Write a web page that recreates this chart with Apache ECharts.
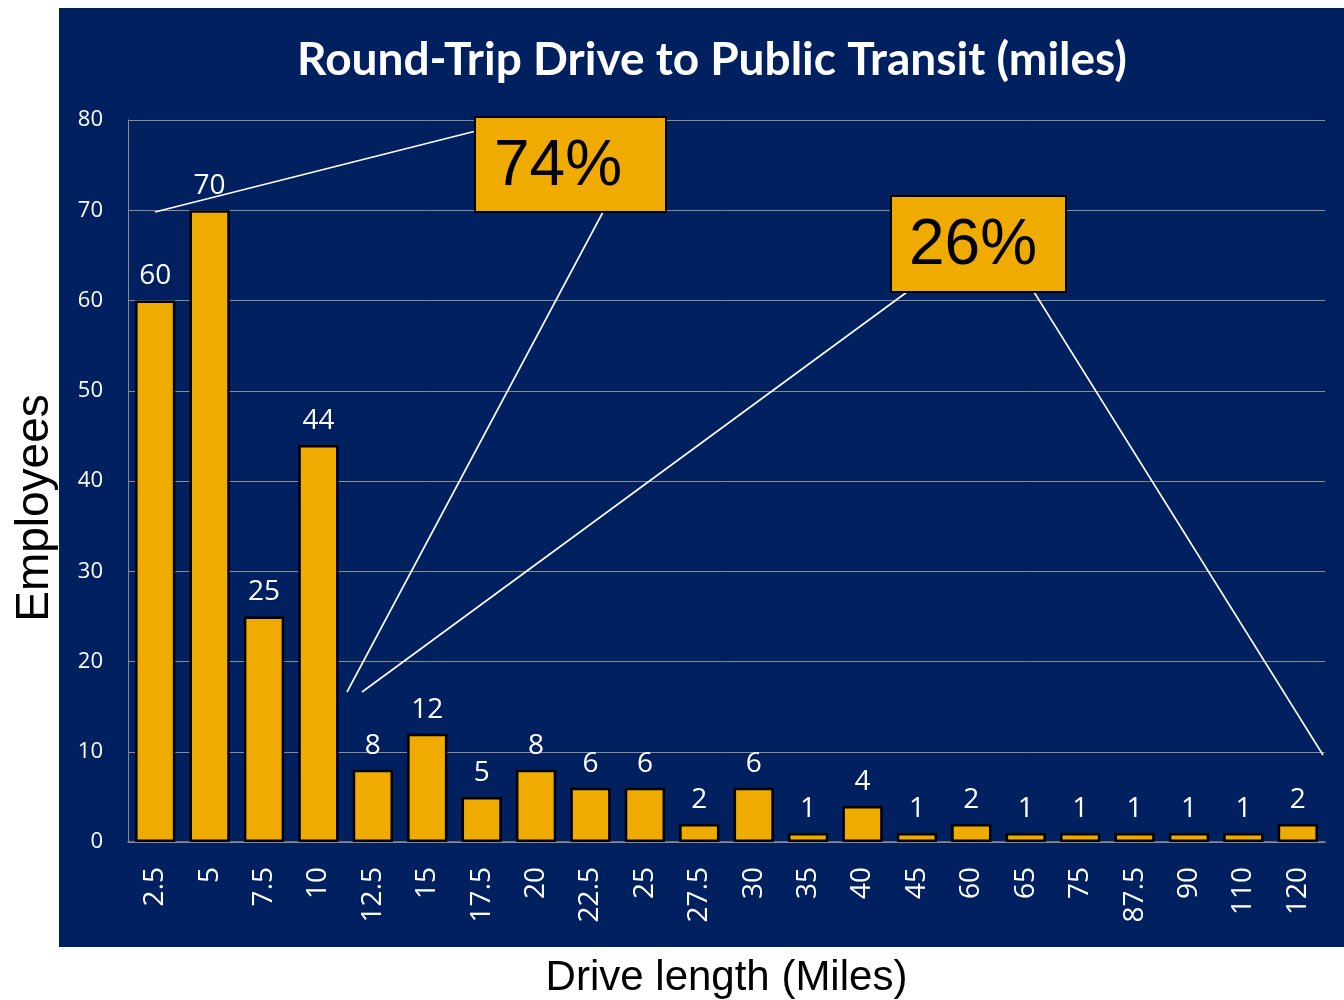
<!DOCTYPE html>
<html>
<head>
<meta charset="utf-8">
<script src="https://cdn.jsdelivr.net/npm/echarts@6/dist/echarts.min.js"></script>
<style>
html,body{margin:0;padding:0;background:#fff;}
#panel{position:absolute;left:59px;top:8px;width:1285px;height:939px;background:#00205F;}
#chart{position:absolute;left:0;top:0;width:1344px;height:1000px;}
</style>
</head>
<body>
<div id="panel"></div>
<div id="chart"></div>
<script>
const categories = ['2.5','5','7.5','10','12.5','15','17.5','20','22.5','25','27.5','30','35','40','45','60','65','75','87.5','90','110','120'];
const employees = [60,70,25,44,8,12,5,8,6,6,2,6,1,4,1,2,1,1,1,1,1,2];
const yTicks = {min:0, max:80, interval:10};
const titleText = 'Round-Trip Drive to Public Transit (miles)';
const yAxisTitle = 'Employees';
const xAxisTitle = 'Drive length (Miles)';
const callouts = ['74%','26%'];

const chart = echarts.init(document.getElementById('chart'), null, {renderer:'canvas'});
const gold = '#F0AB00';
const lineStyle = {stroke:'#ffffff', lineWidth:1.6};
chart.setOption({
  backgroundColor:'transparent',
  animation:false,
  title:{
    text:titleText, left:707, top:32, textAlign:'center',
    textStyle:{color:'#fff', fontSize:46, fontWeight:'bold', fontFamily:'Lato'}
  },
  grid:{left:128, right:19, top:120, bottom:158, containLabel:false, outerBoundsMode:'none'},
  xAxis:{
    type:'category', data:categories,
    name:xAxisTitle, nameLocation:'middle', nameGap:115,
    nameTextStyle:{color:'#000', fontSize:42, fontFamily:'Liberation Sans'},
    axisLine:{lineStyle:{color:'#8a8a8a', width:1.5}},
    axisTick:{show:false},
    axisLabel:{rotate:90, color:'#fff', fontSize:28, margin:25, fontFamily:'Open Sans', interval:0}
  },
  yAxis:{
    type:'value', min:yTicks.min, max:yTicks.max, interval:yTicks.interval,
    axisLine:{show:true, lineStyle:{color:'#8a8a8a', width:1}},
    axisTick:{show:false},
    splitLine:{lineStyle:{color:'#8a8a8a', width:1}},
    axisLabel:{color:'#fff', fontSize:22, margin:25, fontFamily:'Open Sans'}
  },
  series:[{
    type:'bar', data:employees, barCategoryGap:'26%',
    itemStyle:{color:gold, borderColor:'#000', borderWidth:2.5},
    label:{show:true, position:'top', distance:10, color:'#fff', fontSize:28, fontFamily:'Open Sans'}
  }],
  graphic:[
    {type:'text', x:35, y:508, rotation:Math.PI/2, style:{text:yAxisTitle, fill:'#000', fontSize:46, fontFamily:'Liberation Sans', align:'center', verticalAlign:'middle'}},
    {type:'line', shape:{x1:155,y1:212,x2:476,y2:131}, style:lineStyle, z:10},
    {type:'line', shape:{x1:603,y1:212,x2:347,y2:692}, style:lineStyle, z:10},
    {type:'line', shape:{x1:907,y1:292,x2:362,y2:692}, style:lineStyle, z:10},
    {type:'line', shape:{x1:1034,y1:292,x2:1323,y2:755}, style:lineStyle, z:10},
    {type:'rect', shape:{x:475,y:117,width:191,height:95}, style:{fill:gold, stroke:'#000', lineWidth:2}, z:11},
    {type:'text', x:494, y:167, style:{text:callouts[0], fill:'#000', fontSize:64, fontFamily:'Liberation Sans', verticalAlign:'middle'}, z:12},
    {type:'rect', shape:{x:891,y:196,width:175,height:96}, style:{fill:gold, stroke:'#000', lineWidth:2}, z:11},
    {type:'text', x:909, y:246, style:{text:callouts[1], fill:'#000', fontSize:64, fontFamily:'Liberation Sans', verticalAlign:'middle'}, z:12}
  ]
});
</script>
</body>
</html>
